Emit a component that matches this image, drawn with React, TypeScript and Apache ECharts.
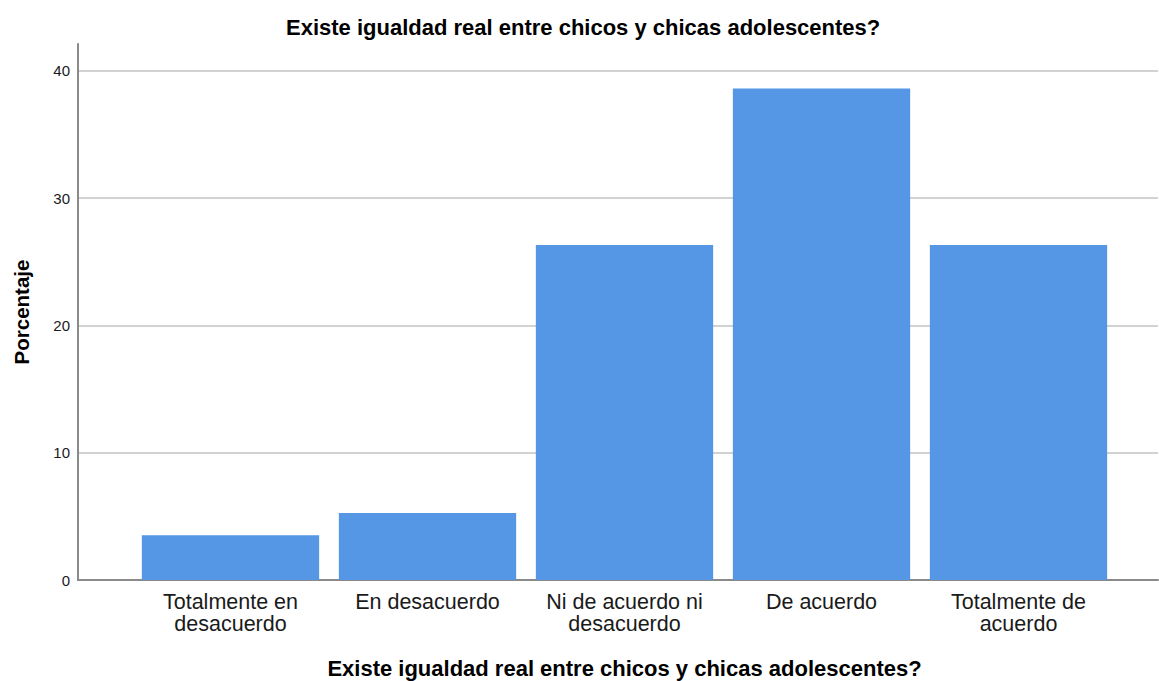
import React, { useEffect, useRef } from "react";
import * as echarts from "echarts";

const categories = [
  "Totalmente en\ndesacuerdo",
  "En desacuerdo",
  "Ni de acuerdo ni\ndesacuerdo",
  "De acuerdo",
  "Totalmente de\nacuerdo",
];
const porcentaje = [3.51, 5.26, 26.32, 38.6, 26.32];
const titleText = "Existe igualdad real entre chicos y chicas adolescentes?";
const yAxisName = "Porcentaje";

export default function App() {
  const ref = useRef<HTMLDivElement>(null);
  useEffect(() => {
    if (!ref.current) return;
    const chart = echarts.init(ref.current, null, { renderer: "svg" });
    const font = "Arial, 'Liberation Sans', sans-serif";
    chart.setOption({
      animation: false,
      backgroundColor: "#ffffff",
      textStyle: { fontFamily: font },
      title: {
        text: titleText,
        left: 281,
        top: 11,
        textStyle: { fontFamily: font, fontSize: 22, fontWeight: "bold", color: "#000" },
      },
      grid: [
        { left: 78, right: 1, top: 44, bottom: 101, containLabel: false, outerBoundsMode: "none" },
        { left: 132, right: 42, top: 44, bottom: 101, containLabel: false, outerBoundsMode: "none" },
      ],
      xAxis: [
        {
          gridIndex: 0,
          type: "value",
          min: 0,
          max: 1,
          axisLine: { show: true, onZero: false, lineStyle: { color: "#8a8a8a", width: 2 } },
          axisTick: { show: false },
          axisLabel: { show: false },
          splitLine: { show: false },
        },
        {
          gridIndex: 1,
          type: "category",
          data: categories,
          axisLine: { show: false },
          axisTick: { show: false },
          axisLabel: {
            fontFamily: font,
            fontSize: 21.5,
            lineHeight: 22,
            color: "#1a1a1a",
            margin: 11,
            interval: 0,
          },
          name: titleText,
          nameLocation: "middle",
          nameGap: 77,
          nameTextStyle: {
            fontFamily: font,
            fontSize: 22,
            lineHeight: 22,
            fontWeight: "bold",
            color: "#000",
          },
        },
      ],
      yAxis: [
        {
          gridIndex: 0,
          type: "value",
          min: 0,
          max: 42.1,
          interval: 10,
          name: yAxisName,
          nameLocation: "middle",
          nameRotate: 90,
          nameGap: 46,
          nameTextStyle: { fontFamily: font, fontSize: 20.5, fontWeight: "bold", color: "#000" },
          axisLine: { show: true, lineStyle: { color: "#8a8a8a", width: 2 } },
          axisTick: { show: false },
          axisLabel: {
            fontFamily: font,
            fontSize: 15,
            color: "#1a1a1a",
            margin: 8,
            formatter: (v: number) => (v % 10 === 0 ? String(v) : ""),
          },
          splitLine: { show: true, showMaxLine: false, lineStyle: { color: "#d2d2d2", width: 2 } },
        },
        {
          gridIndex: 1,
          type: "value",
          min: 0,
          max: 42.1,
          show: false,
          splitLine: { show: false },
        },
      ],
      series: [
        {
          type: "bar",
          xAxisIndex: 1,
          yAxisIndex: 1,
          data: porcentaje,
          barCategoryGap: "10%",
          itemStyle: { color: "#5596e5" },
        },
      ],
    });
    return () => chart.dispose();
  }, []);
  return (
    <div
      ref={ref}
      style={{ position: "absolute", left: 0, top: 0, width: 1159, height: 681 }}
    />
  );
}
